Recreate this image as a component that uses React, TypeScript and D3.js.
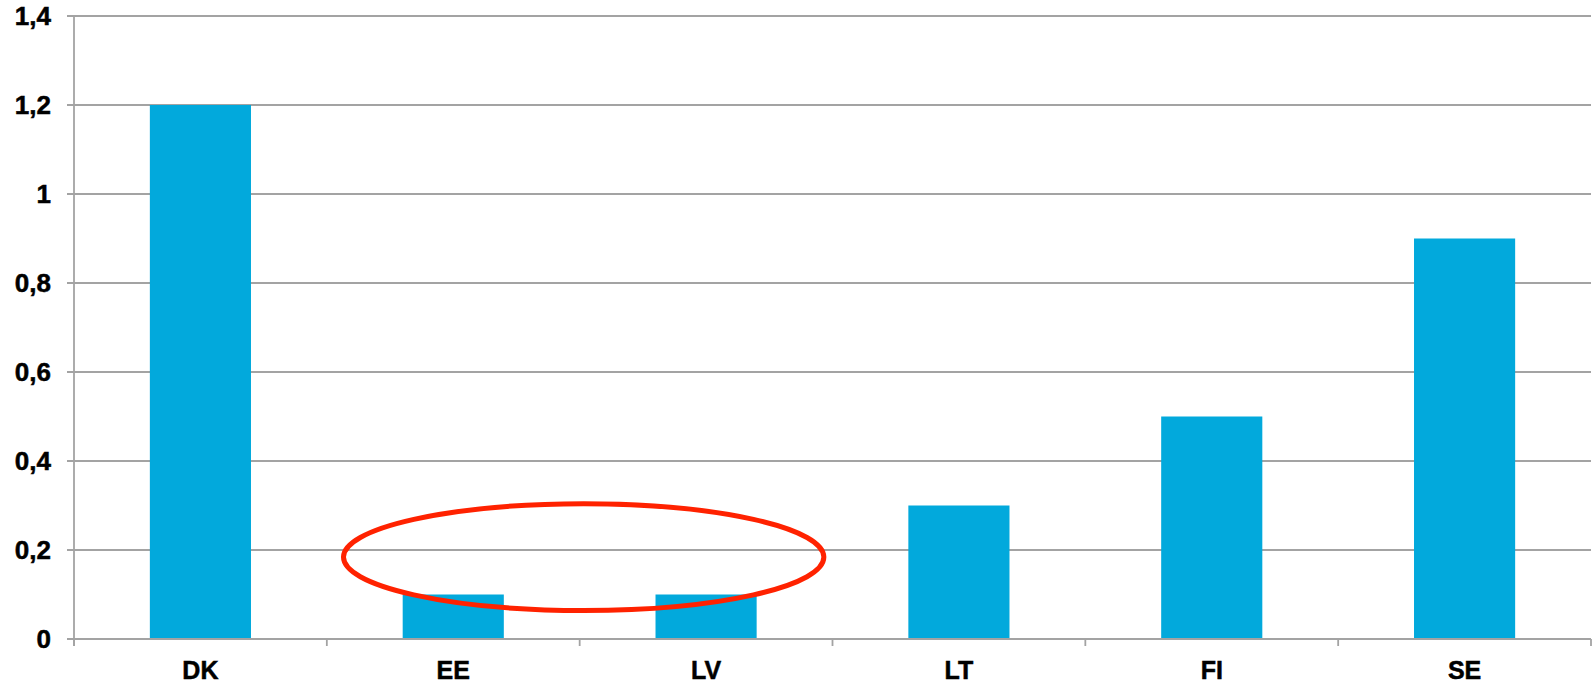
import * as d3 from 'd3'

const countries = ['DK', 'EE', 'LV', 'LT', 'FI', 'SE']
const values = [1.2, 0.1, 0.1, 0.3, 0.5, 0.9]
const yTicks = [0, 0.2, 0.4, 0.6, 0.8, 1, 1.2, 1.4]
const highlight = ['EE', 'LV']

const W = 1594
const H = 685
const margin = { top: 16, right: 3, bottom: 46, left: 74 }
const barColor = '#02a9dc'
const gridColor = '#a3a3a3'

export default function App() {
  const iw = W - margin.left - margin.right
  const ih = H - margin.top - margin.bottom

  const x = d3
    .scaleBand<string>()
    .domain(countries)
    .range([0, iw])
    .paddingInner(0.6)
    .paddingOuter(0.3)
  const y = d3.scaleLinear().domain([0, 1.4]).range([ih, 0])
  const step = x.step()
  const edges = d3.range(countries.length + 1).map(i => i * step)

  // red ring around the two small bars
  const c0 = x(highlight[0])! + x.bandwidth() / 2
  const c1 = x(highlight[1])! + x.bandwidth() / 2
  const cx = (c0 + c1) / 2 + 4
  const cy = y(0.184)
  const rx = (c1 - c0) / 2 + step * 0.45
  const ry = (y(0.065) - y(0.305)) / 2

  const fmt = (v: number) => String(v).replace('.', ',')

  return (
    <svg
      width={W}
      height={H}
      style={{ position: 'absolute', left: 0, top: 0, background: '#fff' }}
      fontFamily="Arial, 'Liberation Sans', sans-serif"
    >
      <g transform={`translate(${margin.left},${margin.top})`}>
        {/* grid + y labels */}
        {yTicks.map(t => (
          <g key={t} transform={`translate(0,${y(t)})`}>
            <line x1={-7} x2={iw} stroke={gridColor} strokeWidth={1.8} />
            <text
              x={-23}
              dy="0.36em"
              textAnchor="end"
              fontSize={26}
              fontWeight="bold"
              fill="#000"
              stroke="#000"
              strokeWidth={0.5}
            >
              {fmt(t)}
            </text>
          </g>
        ))}
        {/* y axis */}
        <line x1={0} x2={0} y1={0} y2={ih + 7} stroke={gridColor} strokeWidth={1.8} />
        {/* category ticks */}
        {edges.map((e, i) => (
          <line key={i} x1={e} x2={e} y1={ih} y2={ih + 7} stroke={gridColor} strokeWidth={1.8} />
        ))}
        {/* bars */}
        {countries.map((c, i) => (
          <rect
            key={c}
            x={x(c)}
            y={y(values[i])}
            width={x.bandwidth()}
            height={ih - y(values[i])}
            fill={barColor}
          />
        ))}
        <line x1={-7} x2={iw} y1={ih} y2={ih} stroke={gridColor} strokeWidth={1.8} />
        {/* x labels */}
        {countries.map(c => (
          <text
            key={c}
            x={x(c)! + x.bandwidth() / 2}
            y={ih + 40}
            textAnchor="middle"
            fontSize={25}
            fontWeight="bold"
            fill="#000"
            stroke="#000"
            strokeWidth={0.5}
          >
            {c}
          </text>
        ))}
        <ellipse
          cx={cx}
          cy={cy}
          rx={rx}
          ry={ry}
          fill="none"
          stroke="#ff2200"
          strokeWidth={5}
        />
      </g>
    </svg>
  )
}
